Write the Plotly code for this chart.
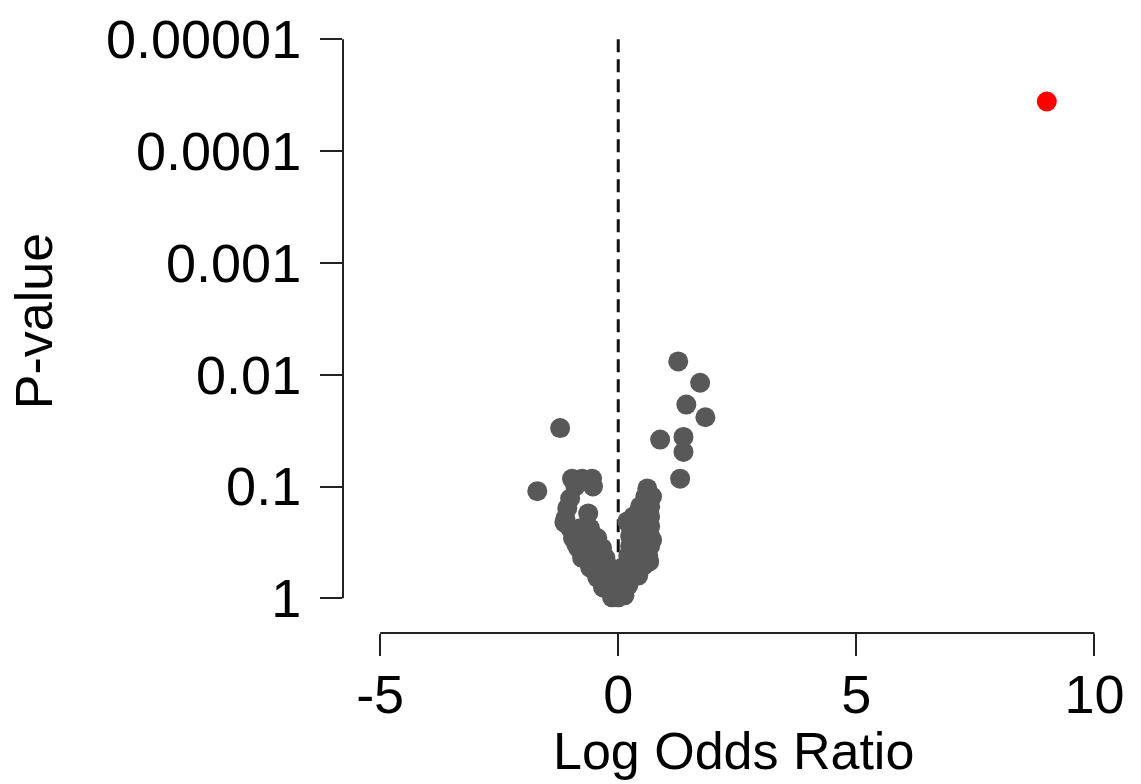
import numpy as np
import plotly.graph_objects as go

# ---- data ----
# gray points: log odds ratio and p-value
log_or = [
    # outliers right
    1.26, 1.72, 1.43, 1.83, 0.88, 1.37, 1.37, 1.30,
    # outliers left
    -1.22, -1.70,
    # left blob / left arm
    -0.97, -0.76, -0.55, -0.90, -0.53, -1.01, -1.07, -1.11, -0.63,
    -1.01, -0.80, -0.59, -0.95, -0.69, -0.44, -0.84, -0.59, -0.34,
    -0.76, -0.53, -0.27, -0.59, -0.38, -0.17, -0.44, -0.23, -0.06,
    -0.32, -0.13, -0.13, 0.0, -1.13, -0.88, -0.70,
    # right arm
    0.61, 0.57, 0.71, 0.46, 0.67, 0.32, 0.53, 0.67, 0.25, 0.46,
    0.67, 0.25, 0.46, 0.67, 0.25, 0.46, 0.67, 0.21, 0.42, 0.63,
    0.15, 0.36, 0.53, 0.08, 0.29, 0.42, 0.04, 0.21, 0.0, 0.13,
    0.19, 0.36, 0.57, 0.71, 0.65,
]
p_value = [
    0.0076, 0.0118, 0.0185, 0.024, 0.038, 0.036, 0.049, 0.085,
    0.030, 0.11,
    0.085, 0.085, 0.085, 0.100, 0.100, 0.128, 0.156, 0.192, 0.174,
    0.236, 0.236, 0.236, 0.289, 0.289, 0.289, 0.354, 0.354, 0.354,
    0.434, 0.434, 0.434, 0.531, 0.531, 0.531, 0.652, 0.652, 0.652,
    0.80, 0.80, 0.98, 0.98, 0.21, 0.33, 0.40,
    # right arm
    0.104, 0.123, 0.123, 0.150, 0.150, 0.185, 0.185, 0.185, 0.226, 0.226,
    0.226, 0.277, 0.277, 0.277, 0.340, 0.340, 0.340, 0.417, 0.417, 0.417,
    0.510, 0.510, 0.510, 0.626, 0.626, 0.626, 0.767, 0.767, 0.94, 0.94,
    0.205, 0.31, 0.38, 0.30, 0.47,
]
# highlighted point
red_log_or = [9.0]
red_p = [3.6e-5]

# reference line at log odds ratio 0
ref_x = [0, 0]
ref_p = [1e-5, 1]

x_ticks = [-5, 0, 5, 10]
x_ticktext = ["-5", "0", "5", "10"]
y_ticks = [1, 0.1, 0.01, 0.001, 0.0001, 0.00001]
y_ticktext = ["1", "0.1", "0.01", "0.001", "0.0001", "0.00001"]

FONT = "Liberation Sans, Arial, sans-serif"
X_TICK_FONT = 54
Y_TICK_FONT = 54
TITLE_FONT = 52
GRAY = "rgb(88,88,88)"
AXIS_COL = "#222222"

X_RANGE = [-5.78, 10.6]
Y_RANGE = [0.31, -5.155]  # log10 units, reversed (small p at top)

W, H = 1141, 784
M = dict(l=343, r=18, t=10, b=151)

fig = go.Figure()
fig.add_trace(go.Scatter(
    x=ref_x, y=ref_p, mode="lines",
    line=dict(color="#111111", width=3, dash="13px,7px"),
    showlegend=False, hoverinfo="skip"))
fig.add_trace(go.Scatter(
    x=log_or, y=p_value, mode="markers",
    marker=dict(size=20, color=GRAY, line=dict(width=0)),
    showlegend=False))
fig.add_trace(go.Scatter(
    x=red_log_or, y=red_p, mode="markers",
    marker=dict(size=20, color="#ff0000", line=dict(width=0)),
    showlegend=False))


def yfrac(p):
    return (Y_RANGE[0] - np.log10(p)) / (Y_RANGE[0] - Y_RANGE[1])


# axis lines only across the tick span (R style)
fig.add_shape(type="line", xref="x", yref="paper",
              x0=min(x_ticks), x1=max(x_ticks), y0=0, y1=0,
              line=dict(color=AXIS_COL, width=2))
fig.add_shape(type="line", xref="paper", yref="paper",
              x0=0, x1=0, y0=float(yfrac(max(y_ticks))), y1=float(yfrac(min(y_ticks))),
              line=dict(color=AXIS_COL, width=2))

fig.update_xaxes(
    range=X_RANGE, showgrid=False, zeroline=False, showline=False,
    tickmode="array", tickvals=x_ticks, ticktext=x_ticktext,
    ticks="outside", ticklen=22, tickwidth=2, tickcolor=AXIS_COL,
    tickfont=dict(family=FONT, size=X_TICK_FONT, color="black"),
    ticklabelstandoff=-8, ticklabeloverflow="allow",
)
fig.update_yaxes(
    type="log", range=Y_RANGE, showgrid=False, zeroline=False, showline=False,
    tickmode="array", tickvals=y_ticks, ticktext=y_ticktext,
    ticks="outside", ticklen=22, tickwidth=2, tickcolor=AXIS_COL,
    tickfont=dict(family=FONT, size=Y_TICK_FONT, color="black"),
    ticklabelstandoff=8, ticklabeloverflow="allow",
)

pw = W - M["l"] - M["r"]
ph = H - M["t"] - M["b"]
fig.add_annotation(text="Log Odds Ratio", xref="paper", yref="paper",
                   x=0.5, y=-(753 - (H - M["b"])) / ph,
                   showarrow=False, xanchor="center", yanchor="middle",
                   font=dict(family=FONT, size=TITLE_FONT, color="black"))
fig.add_annotation(text="P-value", xref="paper", yref="paper",
                   x=-(M["l"] - 34) / pw, y=((H - M["b"]) - 315) / ph, textangle=-90,
                   showarrow=False, xanchor="center", yanchor="middle",
                   font=dict(family=FONT, size=TITLE_FONT, color="black"))

fig.update_layout(
    width=W, height=H, margin=M,
    plot_bgcolor="white", paper_bgcolor="white",
)

fig.write_html("out.html")
